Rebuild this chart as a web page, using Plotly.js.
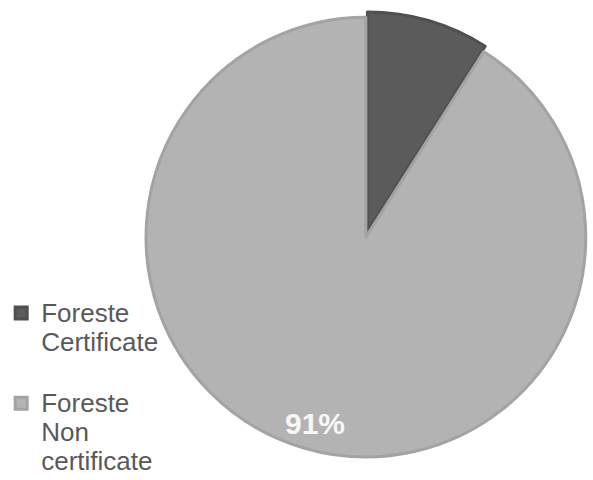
<!DOCTYPE html>
<html>
<head>
<meta charset="utf-8">
<script src="https://cdn.plot.ly/plotly-3.0.1.min.js"></script>
<style>html,body{margin:0;padding:0;background:#fff;}#chart{width:593px;height:480px;}</style>
</head>
<body>
<div id="chart"></div>
<script>
const categories = ["Foreste Certificate", "Foreste Non certificate"];
const legendLines = [["Foreste", "Certificate", ""], ["Foreste", "Non", "certificate"]];
const values = [9, 91];
const shownPercent = [null, 91];
const colors = ["#5b5b5b", "#b3b3b3"];
const lineColors = ["#4f4f4f", "#a3a3a3"];
const pulls = [0.025, 0];

const legendLabels = legendLines.map(lines =>
  lines.map(l => '<span style="font-size:26px">' + (l || '&nbsp;') + '</span>').join('<br>'));

const trace = {
  type: "pie",
  labels: legendLabels,
  values: values,
  textinfo: "none",
  hoverinfo: "none",
  sort: false,
  direction: "clockwise",
  rotation: 0,
  pull: pulls,
  marker: {colors: colors, line: {color: lineColors, width: 3}},
  domain: {x: [0.237, 0.997], y: [0.036, 0.976]},
  showlegend: true
};

const annotations = shownPercent.map((p, i) => p === null ? null : {
  text: "<b>" + p + "%</b>",
  xref: "paper", yref: "paper",
  x: 0.531, y: 0.117, xanchor: "center", yanchor: "middle",
  showarrow: false,
  font: {family: "Liberation Sans, Arial, sans-serif", size: 30, color: "#f7f7f7"}
}).filter(a => a);

const layout = {
  width: 593, height: 480,
  margin: {l: 0, r: 0, t: 0, b: 0, autoexpand: false},
  paper_bgcolor: "#ffffff",
  plot_bgcolor: "#ffffff",
  showlegend: true,
  annotations: annotations,
  legend: {
    x: 0.002, y: 0.392, xanchor: "left", yanchor: "top",
    font: {family: "Liberation Sans, Arial, sans-serif", size: 22.4, color: "#595959"},
    traceorder: "normal",
    valign: "top",
    itemwidth: 30,
    bgcolor: "rgba(0,0,0,0)"
  }
};

Plotly.newPlot("chart", [trace], layout, {displayModeBar: false, staticPlot: true});
</script>
</body>
</html>
